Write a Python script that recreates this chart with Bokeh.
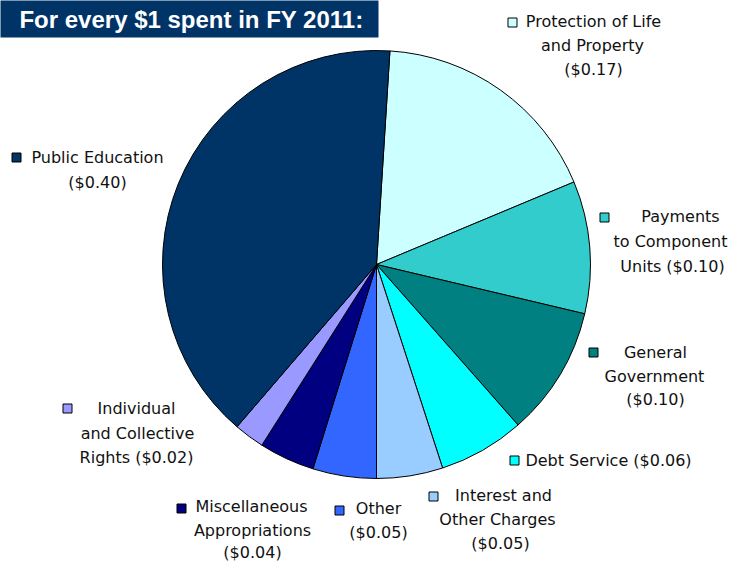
import math
from bokeh.plotting import figure
from bokeh.models import Range1d, ColumnDataSource
from bokeh.embed import file_html
from bokeh.resources import INLINE
from bokeh.core.properties import value

# ---------------- data ----------------
title_text = "For every $1 spent in FY 2011:"
categories = ["Protection of Life and Property", "Payments to Component Units",
              "General Government", "Debt Service", "Interest and Other Charges",
              "Other", "Miscellaneous Appropriations", "Individual and Collective Rights",
              "Public Education"]
shares = [0.177, 0.100, 0.098, 0.065, 0.050, 0.048, 0.042, 0.023, 0.397]
amount_labels = ["($0.17)", "($0.10)", "($0.10)", "($0.06)", "($0.05)",
                 "($0.05)", "($0.04)", "($0.02)", "($0.40)"]
label_lines = [
    ["Protection of Life", "and Property", amount_labels[0]],
    ["Payments", "to Component", "Units " + amount_labels[1]],
    ["General", "Government", amount_labels[2]],
    ["Debt Service " + amount_labels[3]],
    ["Interest and", "Other Charges", amount_labels[4]],
    ["Other", amount_labels[5]],
    ["Miscellaneous", "Appropriations", amount_labels[6]],
    ["Individual", "and Collective", "Rights " + amount_labels[7]],
    ["Public Education", amount_labels[8]],
]
colors = ["#CCFFFF", "#33CCCC", "#008080", "#00FFFF", "#99CCFF",
          "#3366FF", "#000080", "#9999FF", "#003366"]

# ---------------- layout (reference pixel positions) ----------------
W, H = 732, 561
OFF = 0
def X(x): return x - OFF
def Y(y): return H - (y - OFF)

PIE_CX, PIE_CY, PIE_R = 376, 264, 214
START_DEG = 3.6  # clockwise from 12 o'clock

# legend square centers and per-line text centers
square_pos = [(512, 22), (604, 217), (593, 352), (514, 460), (433, 496),
              (339, 510), (181, 508), (67, 408), (16, 157)]
line_pos = [
    [(593, 21), (592, 45), (593, 69)],
    [(680, 216), (670, 241), (672, 266)],
    [(655, 352), (654, 376), (655, 399)],
    [(608, 460)],
    [(503, 495), (497, 519), (500, 543)],
    [(378, 508), (378, 532)],
    [(251, 506), (252, 530), (252, 552)],
    [(136, 408), (137, 433), (136, 457)],
    [(97, 157), (97, 182)],
]

# ---------------- figure ----------------
p = figure(width=W, height=H, x_range=Range1d(0, W), y_range=Range1d(0, H),
           x_axis_type=None, y_axis_type=None, toolbar_location=None,
           output_backend="svg", min_border=0)
p.outline_line_color = None
p.background_fill_color = "white"
p.border_fill_color = "white"

# pie wedges
cum = 0.0
starts, ends = [], []
for s in shares:
    a0 = math.radians(90 - START_DEG - 360 * cum)
    cum += s
    a1 = math.radians(90 - START_DEG - 360 * cum)
    starts.append(a0)
    ends.append(a1)
src = ColumnDataSource(dict(x=[X(PIE_CX)] * len(shares), y=[Y(PIE_CY)] * len(shares),
                            start=starts, end=ends, color=colors, name=categories))
p.wedge(x="x", y="y", radius=PIE_R, start_angle="start", end_angle="end",
        direction="clock", fill_color="color", line_color="black", line_width=1,
        source=src)

# legend squares
p.rect(x=[X(a) for a, b in square_pos], y=[Y(b) for a, b in square_pos],
       width=9, height=9, fill_color=colors, line_color="black", line_width=1)

# labels
tx, ty, tt = [], [], []
for lines, poss in zip(label_lines, line_pos):
    for t, (a, b) in zip(lines, poss):
        tx.append(X(a)); ty.append(Y(b)); tt.append(t)
p.text(x=tx, y=ty, text=tt, text_align="center", text_baseline="middle",
       text_font=value("DejaVu Sans"), text_font_size="16px", text_color="#111111")

# title box
p.quad(left=[X(-10)], right=[X(378)], top=[Y(-10)], bottom=[Y(37)],
       fill_color="#003366", line_color=None)
p.text(x=[X(191)], y=[Y(19)], text=[title_text], text_align="center",
       text_baseline="middle", text_font=value("Liberation Sans"),
       text_font_style="bold", text_font_size="24px", text_color="white")

open("out.html", "w").write(file_html(p, INLINE))
